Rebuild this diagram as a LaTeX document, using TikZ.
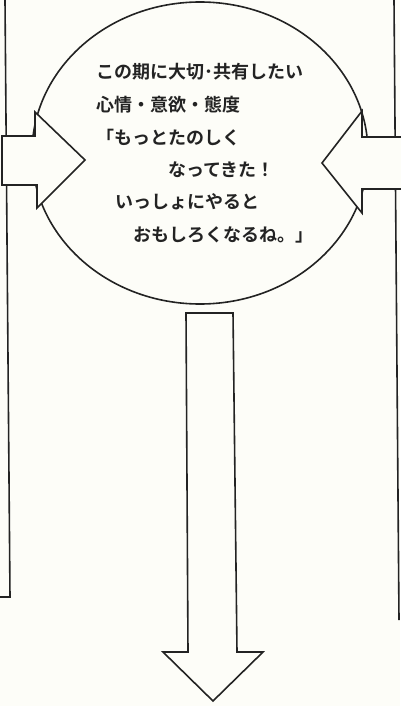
\documentclass[tikz,border=0pt]{standalone}
\usepackage{fontspec}
\newfontfamily\jpb{Noto Sans CJK JP Bold}
\definecolor{paper}{RGB}{253,253,248}
\definecolor{ink}{RGB}{35,35,35}
\begin{document}
\begin{tikzpicture}[x=1pt,y=-1pt,
  outline/.style={draw=ink,line width=1.6pt,line join=miter},
  shapefill/.style={outline,fill=paper},
  txt/.style={anchor=base west,inner sep=0pt,text=ink,font=\jpb\fontsize{18}{20}\selectfont}]
\fill[paper] (0,0) rectangle (400,706);
\useasboundingbox (0,0) rectangle (400,706);
% outer frame lines
\draw[outline] (5,0) -- (10,597) -- (0,597);
\draw[outline] (394,0) -- (399,620);
% central ellipse
\draw[outline] (200,153) ellipse [x radius=168, y radius=151];
% left arrow
\draw[shapefill] (2,136) -- (35,136) -- (35,112) -- (85,160) -- (37,208) -- (37,185) -- (2,185) -- cycle;
% right arrow
\fill[paper] (404,137) -- (362,137) -- (362,111) -- (322,163) -- (362,213) -- (362,189) -- (404,189) -- cycle;
\draw[outline] (404,137) -- (362,137) -- (362,111) -- (322,163) -- (362,213) -- (362,189) -- (404,189);
% down arrow
\draw[shapefill] (186,313) -- (233,313) -- (237,652) -- (263,652) -- (213,701) -- (163,652) -- (188,652) -- cycle;
% text
\node[txt] (l1) at (96,78.5) {この期に大切･共有したい};
\node[txt] (l2) at (96,111.5) {心情・意欲・態度};
\node[txt] (l3) at (96,144.5) {「もっとたのしく};
\node[txt] (l4) at (168,176.5) {なってきた！};
\node[txt] (l5) at (115,208.5) {いっしょにやると};
\node[txt] (l6) at (133,241.5) {おもしろくなるね。」};
\end{tikzpicture}
\end{document}
